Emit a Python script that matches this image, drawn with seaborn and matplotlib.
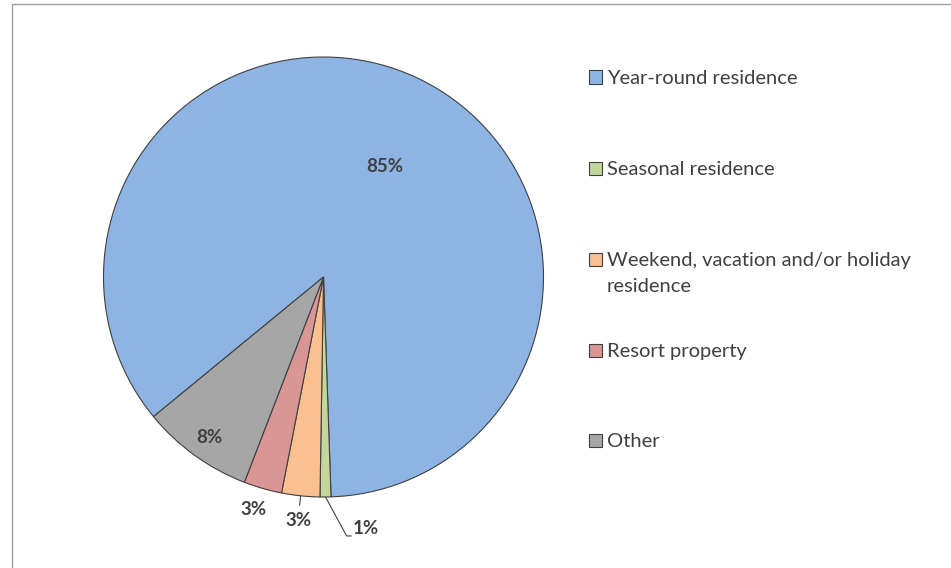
import numpy as np
import matplotlib
matplotlib.use("Agg")
import matplotlib.pyplot as plt
import seaborn as sns
from matplotlib.patches import Rectangle

sns.set_theme(style="white")
plt.rcParams['font.family'] = ['Lato', 'DejaVu Sans']

categories = ["Year-round residence", "Seasonal residence",
              "Weekend, vacation and/or holiday\nresidence", "Resort property", "Other"]
values = [85.4, 0.8, 2.8, 2.8, 8.2]
labels = ["85%", "1%", "3%", "3%", "8%"]
colors = ["#8EB4E3", "#C3D69B", "#FAC090", "#D99694", "#A6A6A6"]

W, H = 951, 568
fig = plt.figure(figsize=(W / 100, H / 100), dpi=100)
cx, cy, r = 323.5, 277, 220
ax = fig.add_axes([(cx - r) / W, (H - cy - r) / H, 2 * r / W, 2 * r / H])

wedges, _ = ax.pie(values, colors=colors, startangle=219.4, counterclock=False,
                   radius=1.0, center=(0, 0), frame=False,
                   wedgeprops=dict(edgecolor="#404040", linewidth=0.8))
ax.set_xlim(-1, 1)
ax.set_ylim(-1, 1)
ax.set_aspect("equal")
ax.axis("off")

txtc = "#404040"
dist = [0.574, 1.145, 1.113, 1.106, 0.898]
dang = [-4.6, 0, 0, -0.8, 0.4]
for w, lab, d, da in zip(wedges, labels, dist, dang):
    mid = np.deg2rad((w.theta1 + w.theta2) / 2 + da)
    x, y = d * np.cos(mid), d * np.sin(mid)
    if lab == "1%":
        x0, y0 = np.cos(mid), np.sin(mid)
        ax.plot([x0, 0.105, 0.128], [y0, -1.177, -1.177], color="#404040", lw=0.8,
                clip_on=False, solid_capstyle="butt")
        ax.text(0.134, -1.145, lab, ha="left", va="center", fontsize=13.5,
                fontweight="bold", color=txtc)
        continue
    ax.text(x, y, lab, ha="center", va="center", fontsize=13.5,
            fontweight="bold", color=txtc)
# small leader tick for orange slice
w = wedges[2]
mid = np.deg2rad((w.theta1 + w.theta2) / 2)
ax.plot([np.cos(mid) * 1.0, np.cos(mid) * 1.043], [np.sin(mid) * 1.0, np.sin(mid) * 1.043],
        color="#404040", lw=0.8, clip_on=False)

# legend (manual)
ys = [77, 168, 259, 350, 440]
for c, lab, y in zip(colors, categories, ys):
    fig.patches.append(Rectangle((589 / W, (H - y - 6.5) / H), 13 / W, 13 / H,
                                 transform=fig.transFigure, facecolor=c,
                                 edgecolor="#404040", linewidth=0.8))
    ty = y + 14.5 if "\n" in lab else y + 1.5
    fig.text(607 / W, (H - ty) / H, lab, ha="left", va="center",
             fontsize=14.5, color=txtc, linespacing=1.68)

# chart frame
fig.patches.append(Rectangle((12 / W, -0.01), 1.2, (H - 4) / H + 0.01, transform=fig.transFigure,
                             fill=False, edgecolor="#A0A0A0", linewidth=1.0))

fig.savefig("out.png", dpi=100)
